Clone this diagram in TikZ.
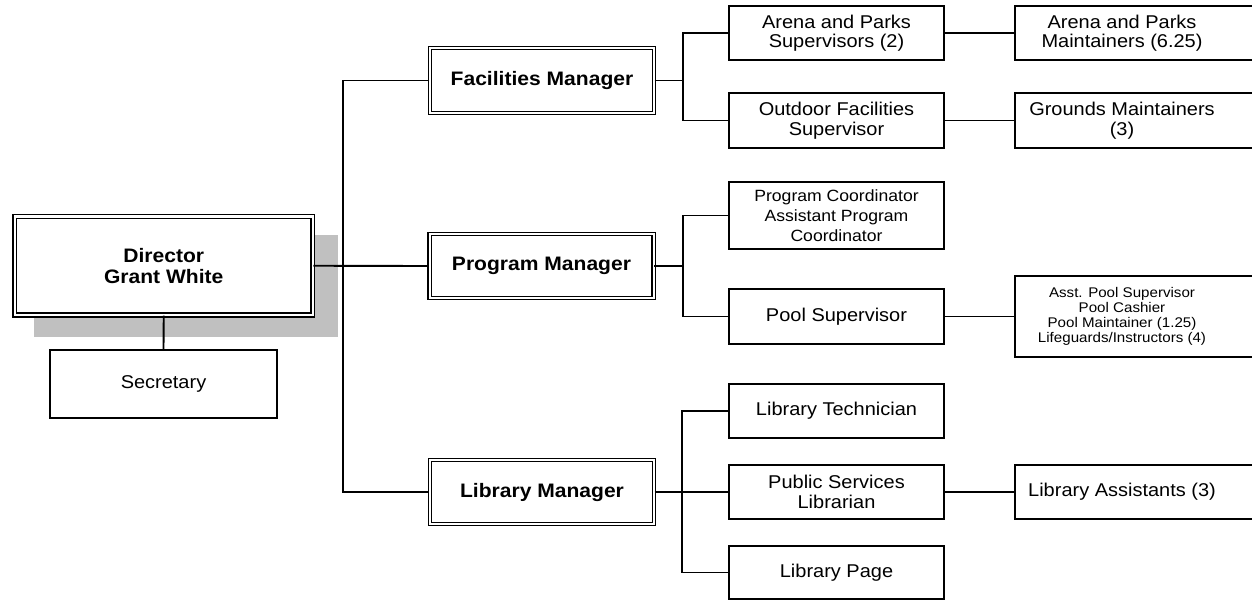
\documentclass[tikz,border=0pt]{standalone}
\usepackage{fontspec}
\setmainfont{Liberation Sans}[FakeStretch=1.08]
\definecolor{shadowgray}{HTML}{C0C0C0}
\begin{document}
\begin{tikzpicture}[x=1pt,y=-1pt,
  every node/.style={inner sep=0pt, align=center},
  conn/.style={line width=1.9pt},
  mgr/.style={draw, double, line width=1.4pt, double distance=2pt, fill=white,
    minimum width=224pt, minimum height=64pt,
    font=\fontsize{19.5}{21}\selectfont\bfseries},
  unit/.style={draw, line width=1.9pt, fill=white, minimum width=215pt,
    minimum height=54pt, font=\fontsize{18.5}{19.5}\selectfont},
  open/.style={minimum width=214pt, minimum height=54pt,
    font=\fontsize{18.5}{19.5}\selectfont},
  openline/.style={line width=1.9pt},
  small/.style={font=\fontsize{14}{15}\selectfont},
  mid/.style={font=\fontsize{16.3}{20}\selectfont}
]
\useasboundingbox (0,0) rectangle (1252,600);
% shadow of director
\fill[shadowgray] (34,235) rectangle (338,337);
% Director
\node[mgr, minimum width=298pt, minimum height=98.5pt, double distance=2.5pt] (dir) at (163.75,265.75) {Director\\Grant White};
\node[unit, minimum width=227pt, minimum height=68pt] (sec) at (163.5,384) {Secretary};
% managers
\node[mgr, minimum height=65pt] (fm) at (542,80.5) {Facilities Manager};
\node[mgr] (pm) at (541.5,266) {Program Manager};
\node[mgr] (lm) at (542,492) {Library Manager};
% second column
\node[unit] (aps) at (836.5,33) {Arena and Parks\\Supervisors (2)};
\node[unit, minimum height=55pt] (ofs) at (836.5,120.5) {Outdoor Facilities\\Supervisor};
\node[unit, minimum height=67pt, mid] (pc) at (836.5,215.5) {Program Coordinator\\Assistant Program\\Coordinator};
\node[unit, minimum height=55pt] (ps) at (836.5,316.5) {Pool Supervisor};
\node[unit] (lt) at (836.5,411) {Library Technician};
\node[unit] (psl) at (836.5,492) {Public Services\\Librarian};
\node[unit, minimum height=53pt] (lp) at (836.5,572.5) {Library Page};
% third column (boxes run past the right edge)
\node[open] (apm) at (1122,33) {Arena and Parks\\Maintainers (6.25)};
\node[open, minimum height=55pt] (gm) at (1122,120.5) {Grounds Maintainers\\(3)};
\node[open, minimum height=81pt, small] (pool) at (1122,316.5) {Asst. Pool Supervisor\\Pool Cashier\\Pool Maintainer (1.25)\\Lifeguards/Instructors (4)};
\node[open] (la) at (1122,492) {Library Assistants (3)};
\foreach \n in {apm,gm,pool,la}{
  \draw[openline] ([xshift=60pt]\n.north east) -- (\n.north west) -- (\n.south west) -- ([xshift=60pt]\n.south east);
}
% coordinates for buses
\coordinate (trunk) at (343,266);
\coordinate (fbus) at (683,80.5);
\coordinate (pbus) at (683,266);
\coordinate (lbus) at (682,492);
% connectors
\draw[conn] (dir.south) -- (sec.north);
\draw[conn] (dir.east) -- (pm.west);
\draw[conn] (fm.west) -| (trunk) |- (lm.west);
\draw[conn] (fm.east) -- (fbus);
\draw[conn] (aps.west) -| (fbus) |- (ofs.west);
\draw[conn] (pm.east) -- (pbus);
\draw[conn] (pc.west) -| (pbus) |- (ps.west);
\draw[conn] (lm.east) -- (lbus);
\draw[conn] (lt.west) -| (lbus) |- (lp.west);
\draw[conn] (lbus) -- (psl.west);
\draw[conn] (aps.east) -- (apm.west);
\draw[conn] (ofs.east) -- (gm.west);
\draw[conn] (ps.east) -- (pool.west);
\draw[conn] (psl.east) -- (la.west);
\end{tikzpicture}
\end{document}
